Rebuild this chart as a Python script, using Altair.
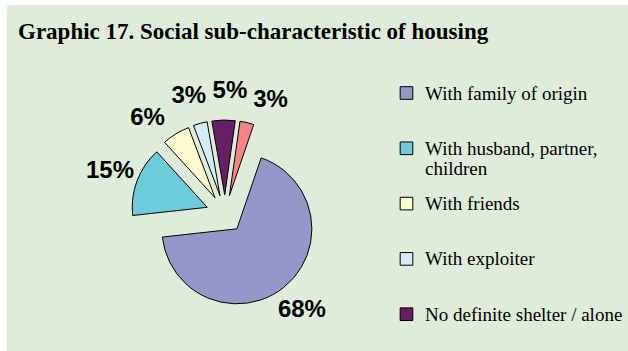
import altair as alt
import pandas as pd

title_text = "Graphic 17. Social sub-characteristic of housing"
categories = [
    "With family of origin",
    "With husband, partner, children",
    "With friends",
    "With exploiter",
    "No definite shelter / alone",
    "Other",
]
values = [68, 15, 6, 3, 5, 3]
colors = ["#9696C8", "#6CCCDC", "#FDFBD0", "#D2EDF5", "#661F66", "#F38586"]
legend_labels = [
    "With family of origin",
    "With husband, partner,|children",
    "With friends",
    "With exploiter",
    "No definite shelter / alone",
]

BG = "#E0ECDA"
SERIF = "Liberation Serif"
SANS = "Liberation Sans"
START = 0.33          # first slice angle (radians, clockwise from 12 o'clock)
CX, CY = 225, 214     # pie centre in pixels
R = 75                # pie radius
EXPLODE = 19          # slice explosion distance
LABEL_R = 123         # label distance from centre
PIVOT = 6.109         # small-slice labels are fanned out around this angle
SPREAD = 1.35

pie_df = pd.DataFrame({"category": categories, "value": values, "idx": list(range(len(values)))})
legend_df = pd.DataFrame({"category": categories[:5], "label": legend_labels, "idx": list(range(5))})
title_df = pd.DataFrame({"t": [title_text]})

color = alt.Color("category:N", scale=alt.Scale(domain=categories, range=colors), legend=None)

base = (
    alt.Chart(pie_df)
    .transform_window(cum="sum(value)", sort=[alt.SortField("idx")], frame=[None, 0])
    .transform_joinaggregate(total="sum(value)")
    .transform_calculate(th0=f"{START} + 2*PI*(datum.cum - datum.value)/datum.total")
    .transform_calculate(th1=f"{START} + 2*PI*datum.cum/datum.total")
    .transform_calculate(mid="(datum.th0 + datum.th1)/2")
    .transform_calculate(
        lang=f"datum.value < 10 ? {PIVOT} + {SPREAD}*(datum.mid - {PIVOT}) : datum.mid"
    )
    .transform_calculate(cx=f"{CX} + {EXPLODE}*sin(datum.mid)")
    .transform_calculate(cy=f"{CY} - {EXPLODE}*cos(datum.mid)")
    .transform_calculate(lx=f"{CX} + {LABEL_R}*sin(datum.lang)")
    .transform_calculate(ly=f"{CY} - {LABEL_R}*cos(datum.lang)")
    .transform_calculate(pct="datum.value + '%'")
)

arcs = base.mark_arc(outerRadius=R, stroke="black", strokeWidth=1).encode(
    theta=alt.Theta("th0:Q", scale=None, stack=None),
    theta2="th1:Q",
    x=alt.X("cx:Q", scale=None),
    y=alt.Y("cy:Q", scale=None),
    color=color,
)

labels = base.mark_text(font=SANS, fontSize=24, fontWeight="bold", color="black").encode(
    x=alt.X("lx:Q", scale=None),
    y=alt.Y("ly:Q", scale=None),
    text="pct:N",
)

legend_base = (
    alt.Chart(legend_df)
    .transform_calculate(sy="93 + datum.idx*55.3")
    .transform_calculate(ty="datum.sy + 6.5")
    .transform_calculate(ty2="datum.ty + 20")
    .transform_calculate(line1="split(datum.label, '|')[0]")
    .transform_calculate(line2="indexof(datum.label, '|') >= 0 ? split(datum.label, '|')[1] : ''")
)

symbols = legend_base.mark_point(shape="square", size=160, filled=True, opacity=1, stroke="black", strokeWidth=1).encode(
    x=alt.value(406.5),
    y=alt.Y("sy:Q", scale=None),
    color=color,
)

legend_text1 = legend_base.mark_text(
    align="left", baseline="alphabetic", font=SERIF, fontSize=19, color="black"
).encode(
    x=alt.value(425),
    y=alt.Y("ty:Q", scale=None),
    text="line1:N",
)

legend_text2 = legend_base.mark_text(
    align="left", baseline="alphabetic", font=SERIF, fontSize=19, color="black"
).encode(
    x=alt.value(425),
    y=alt.Y("ty2:Q", scale=None),
    text="line2:N",
)

bg = alt.Chart(title_df).mark_rect(color=BG).encode(
    x=alt.value(7), x2=alt.value(628), y=alt.value(5), y2=alt.value(351)
)

title = alt.Chart(title_df).mark_text(
    align="left", baseline="alphabetic", font=SERIF, fontSize=23, fontWeight="bold", color="black"
).encode(x=alt.value(18), y=alt.value(39), text="t:N")

chart = (
    alt.layer(bg, arcs, labels, symbols, legend_text1, legend_text2, title)
    .properties(width=628, height=351, padding=0, autosize="none", background="white")
    .configure_view(stroke=None)
)

chart.save("out.html", embed_options={"renderer": "svg", "actions": False})
